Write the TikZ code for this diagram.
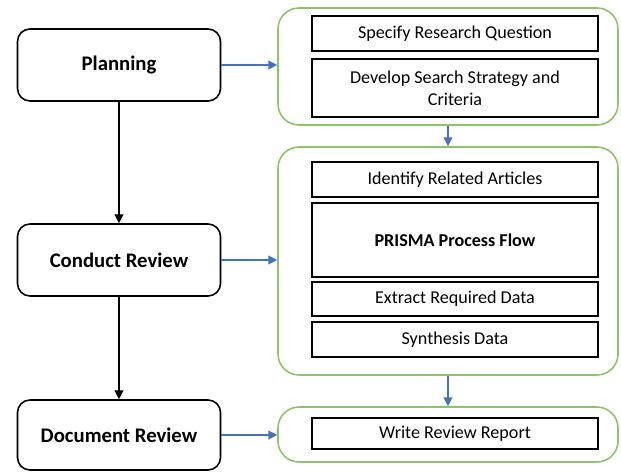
\documentclass[tikz,border=0pt]{standalone}
\usepackage{fontspec}
\setmainfont{Carlito}
\usetikzlibrary{arrows.meta}

\begin{document}
\begin{tikzpicture}[
    stage/.style={draw=black, line width=0.9pt, rounded corners=0.25cm,
        minimum width=4.06cm, minimum height=1.44cm, font=\fontsize{11.8}{13}\selectfont\bfseries},
    group/.style={draw=tab_green, line width=0.9pt, rounded corners=0.42cm,
        minimum width=6.80cm},
    task/.style={draw=black, line width=0.7pt, minimum width=5.72cm,
        align=center, font=\fontsize{10.3}{12.4}\selectfont, inner sep=0pt},
    flow/.style={draw=black, line width=0.7pt, -{Triangle[length=5pt,width=5pt]}},
    link/.style={draw=tab_blue, line width=0.7pt, -{Triangle[length=5pt,width=5pt]}}
]
    \definecolor{tab_green}{HTML}{8DC465}
    \definecolor{tab_blue}{HTML}{4472C4}
    %\draw[help lines] (0,0) grid (12,9);
    \useasboundingbox (0,0) rectangle (12.42,9.44);

    % stages on the left
    \node[stage] (planning) at (2.38,8.14) {Planning};
    \node[stage] (conduct) at (2.38,4.24) {Conduct Review};
    \node[stage, minimum height=1.40cm] (document) at (2.38,0.74) {Document Review};

    % green groups on the right
    \node[group, minimum height=2.34cm] (plangroup) at (8.96,8.11) {};
    \node[group, minimum height=4.56cm] (reviewgroup) at (8.96,4.22) {};
    \node[group, minimum height=1.10cm] (reportgroup) at (8.96,0.75) {};

    % tasks inside the groups
    \node[task, minimum height=0.70cm] (question) at (9.10,8.77) {Specify Research Question};
    \node[task, minimum height=1.16cm] (strategy) at (9.10,7.68) {Develop Search Strategy and\\Criteria};
    \node[task, minimum height=0.70cm] (identify) at (9.10,5.85) {Identify Related Articles};
    \node[task, minimum height=1.48cm, font=\fontsize{10.3}{12.4}\selectfont\bfseries] (prisma) at (9.10,4.64) {PRISMA Process Flow};
    \node[task, minimum height=0.68cm] (extract) at (9.10,3.46) {Extract Required Data};
    \node[task, minimum height=0.70cm] (synthesis) at (9.10,2.65) {Synthesis Data};
    \node[task, minimum height=0.62cm] (report) at (9.10,0.77) {Write Review Report};

    \draw[flow] (planning) -- (conduct);
    \draw[flow] (conduct) -- (document);

    \draw[link] (planning.east) -- (planning.east -| plangroup.west);
    \draw[link] (conduct.east) -- (conduct.east -| reviewgroup.west);
    \draw[link] (document.east) -- (document.east -| reportgroup.west);
    \draw[link] (plangroup.south) -- (reviewgroup.north);
    \draw[link] (reviewgroup.south) -- (reportgroup.north);

\end{tikzpicture}
\end{document}
